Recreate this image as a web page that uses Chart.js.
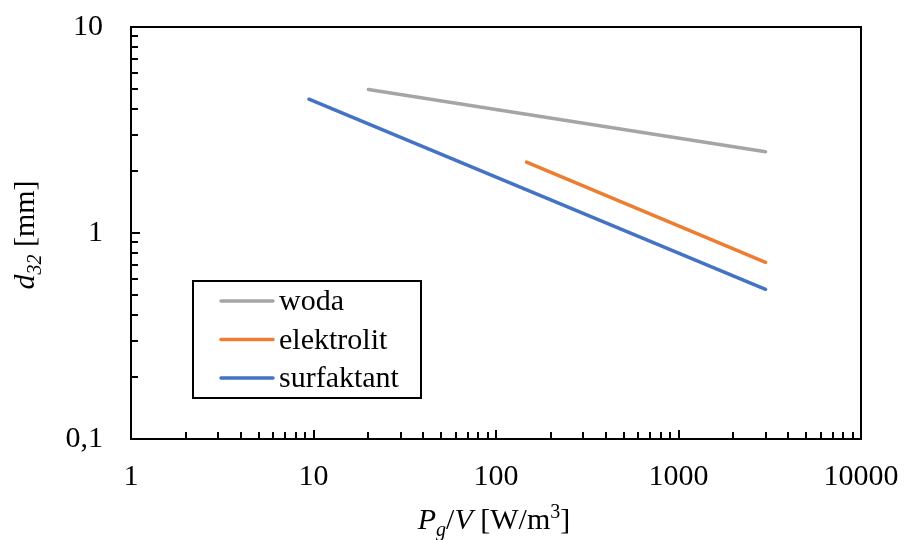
<!DOCTYPE html>
<html>
<head>
<meta charset="utf-8">
<script src="https://cdn.jsdelivr.net/npm/chart.js@4.4.1/dist/chart.umd.min.js"></script>
<style>
html,body{margin:0;padding:0;background:#fff;}
#wrap{width:906px;height:540px;position:relative;}
.pre{font-family:"Liberation Serif";position:absolute;left:-1000px;top:0;}
</style>
</head>
<body>
<div class="pre">ab <i>cd</i></div>
<div id="wrap"><canvas id="c" width="906" height="540"></canvas></div>
<script>
// ---- data ----
const seriesNames = ['woda', 'elektrolit', 'surfaktant'];
const seriesColors = ['#A5A5A5', '#ED7D31', '#4472C4'];
const wodaX = [20, 3000];
const wodaY = [4.97, 2.48];
const elektrolitX = [147, 3000];
const elektrolitY = [2.21, 0.721];
const surfaktantX = [9.44, 3000];
const surfaktantY = [4.46, 0.533];
const xTicks = [1, 10, 100, 1000, 10000];
const xTickLabels = ['1', '10', '100', '1000', '10000'];
const yTicks = [0.1, 1, 10];
const yTickLabels = ['0,1', '1', '10'];

const FONT = "'Liberation Serif', 'DejaVu Serif', serif";

function pts(xs, ys) { return xs.map((x, i) => ({x: x, y: ys[i]})); }
const seriesData = [pts(wodaX, wodaY), pts(elektrolitX, elektrolitY), pts(surfaktantX, surfaktantY)];

const datasets = seriesNames.map((n, i) => ({
  label: n,
  data: seriesData[i],
  borderColor: seriesColors[i],
  backgroundColor: seriesColors[i],
  borderWidth: 3.5,
  borderCapStyle: 'round',
  showLine: true,
  pointRadius: 0,
  pointHoverRadius: 0,
  tension: 0
}));

function minorTicks(min, max) {
  const out = [];
  for (let e = Math.round(Math.log10(min)); e < Math.round(Math.log10(max)); e++) {
    const d = Math.pow(10, e);
    for (let k = 2; k <= 9; k++) out.push(d * k);
  }
  return out;
}

function fnt(style, size) {
  return Chart.helpers && Chart.helpers.toFont
    ? Chart.helpers.toFont({family: FONT, size: size, style: style}).string
    : style + ' ' + size + 'px ' + FONT;
}

function drawDecor(chart) {
  const ctx = chart.ctx;
  const a = chart.chartArea;
  const xs = chart.scales.x, ys = chart.scales.y;
  ctx.save();
  ctx.strokeStyle = '#000';
  ctx.lineWidth = 2;
  ctx.beginPath();
  xTicks.forEach(v => { const p = Math.round(xs.getPixelForValue(v)); ctx.moveTo(p, a.bottom); ctx.lineTo(p, a.bottom - 9); });
  minorTicks(1, 10000).forEach(v => { const p = Math.round(xs.getPixelForValue(v)); ctx.moveTo(p, a.bottom); ctx.lineTo(p, a.bottom - 7); });
  yTicks.forEach(v => { const p = Math.round(ys.getPixelForValue(v)); ctx.moveTo(a.left, p); ctx.lineTo(a.left + 9, p); });
  minorTicks(0.1, 10).forEach(v => { const p = Math.round(ys.getPixelForValue(v)); ctx.moveTo(a.left, p); ctx.lineTo(a.left + 7, p); });
  ctx.stroke();
  ctx.lineWidth = 2;
  ctx.strokeRect(a.left, a.top, a.right - a.left, a.bottom - a.top);

  // legend box
  const lx = 193, ly = 281, lw = 228, lh = 117;
  ctx.fillStyle = '#fff';
  ctx.fillRect(lx, ly, lw, lh);
  ctx.lineWidth = 2;
  ctx.strokeStyle = '#000';
  ctx.strokeRect(lx, ly, lw, lh);
  ctx.font = fnt('normal', 30);
  ctx.textBaseline = 'alphabetic';
  ctx.textAlign = 'left';
  chart.data.datasets.forEach((ds, i) => {
    const cy = 301 + i * 38.5;
    ctx.strokeStyle = ds.borderColor;
    ctx.lineWidth = 3.5;
    ctx.lineCap = 'round';
    ctx.beginPath();
    ctx.moveTo(221, cy); ctx.lineTo(273, cy);
    ctx.stroke();
    ctx.fillStyle = '#000';
    ctx.font = fnt('normal', 30);
    ctx.fillText(ds.label, 279, cy + 9);
  });

  // x title: P_g/V [W/m^3]
  const parts = [
    {t: 'P', s: 'italic', z: 30, dy: 0},
    {t: 'g', s: 'italic', z: 20, dy: 7},
    {t: '/', s: 'normal', z: 30, dy: 0},
    {t: 'V', s: 'italic', z: 30, dy: 0},
    {t: ' [W/m', s: 'normal', z: 30, dy: 0},
    {t: '3', s: 'normal', z: 20, dy: -11},
    {t: ']', s: 'normal', z: 30, dy: 0}
  ];
  let total = 0;
  parts.forEach(p => { ctx.font = fnt(p.s, p.z); p.w = ctx.measureText(p.t).width; total += p.w; });
  let x0 = 494 - total / 2;
  ctx.fillStyle = '#000';
  parts.forEach(p => { ctx.font = fnt(p.s, p.z); ctx.fillText(p.t, x0, 529 + p.dy); x0 += p.w; });

  // y title: d_32 [mm]
  const yparts = [
    {t: 'd', s: 'italic', z: 30, dy: 0},
    {t: '32', s: 'italic', z: 20, dy: 7},
    {t: ' [mm]', s: 'normal', z: 30, dy: 0}
  ];
  let ytot = 0;
  yparts.forEach(p => { ctx.font = fnt(p.s, p.z); p.w = ctx.measureText(p.t).width; ytot += p.w; });
  ctx.translate(34, 235);
  ctx.rotate(-Math.PI / 2);
  let y0 = -ytot / 2;
  yparts.forEach(p => { ctx.font = fnt(p.s, p.z); ctx.fillText(p.t, y0, p.dy); y0 += p.w; });
  ctx.restore();
}

const decorPlugin = {
  id: 'decor',
  afterDatasetsDraw(chart) {
    try { drawDecor(chart); }
    catch (e) {
      const ctx = chart.ctx; ctx.save();
      ctx.fillStyle = 'red'; ctx.font = '14px sans-serif'; ctx.fillText(String(e), 150, 60); ctx.restore();
    }
  }
};

function build() {
  new Chart(document.getElementById('c'), {
    type: 'scatter',
    data: { datasets: datasets },
    options: {
      responsive: false,
      animation: false,
      events: [],
      layout: { padding: { left: 0, right: 45, top: 27, bottom: 0 } },
      plugins: { legend: { display: false }, tooltip: { enabled: false }, title: { display: false } },
      scales: {
        x: {
          type: 'logarithmic',
          min: 1, max: 10000,
          grid: { display: false, drawTicks: false, tickLength: 0 },
          border: { display: false },
          afterBuildTicks: s => { s.ticks = xTicks.map(v => ({value: v})); },
          afterFit: s => { s.height = 101; s.paddingLeft = 0; s.paddingRight = 0; },
          ticks: {
            color: '#000',
            font: { family: FONT, size: 30 },
            padding: 20,
            maxRotation: 0,
            autoSkip: false,
            callback: (v) => { const i = xTicks.indexOf(v); return i >= 0 ? xTickLabels[i] : ''; }
          }
        },
        y: {
          type: 'logarithmic',
          min: 0.1, max: 10,
          grid: { display: false, drawTicks: false, tickLength: 0 },
          border: { display: false },
          afterBuildTicks: s => { s.ticks = yTicks.map(v => ({value: v})); },
          afterFit: s => { s.width = 131; s.paddingTop = 0; s.paddingBottom = 0; },
          ticks: {
            color: '#000',
            font: { family: FONT, size: 30 },
            padding: 28,
            autoSkip: false,
            callback: (v) => { const i = yTicks.indexOf(v); return i >= 0 ? yTickLabels[i] : ''; }
          }
        }
      }
    },
    plugins: [decorPlugin]
  });
}

let built = false;
function go() { if (!built) { built = true; build(); } }
Promise.all([
  document.fonts.load("30px 'Liberation Serif'"),
  document.fonts.load("italic 30px 'Liberation Serif'"),
  document.fonts.load("20px 'Liberation Serif'")
]).then(go, go);
setTimeout(go, 1500);
</script>
</body>
</html>
